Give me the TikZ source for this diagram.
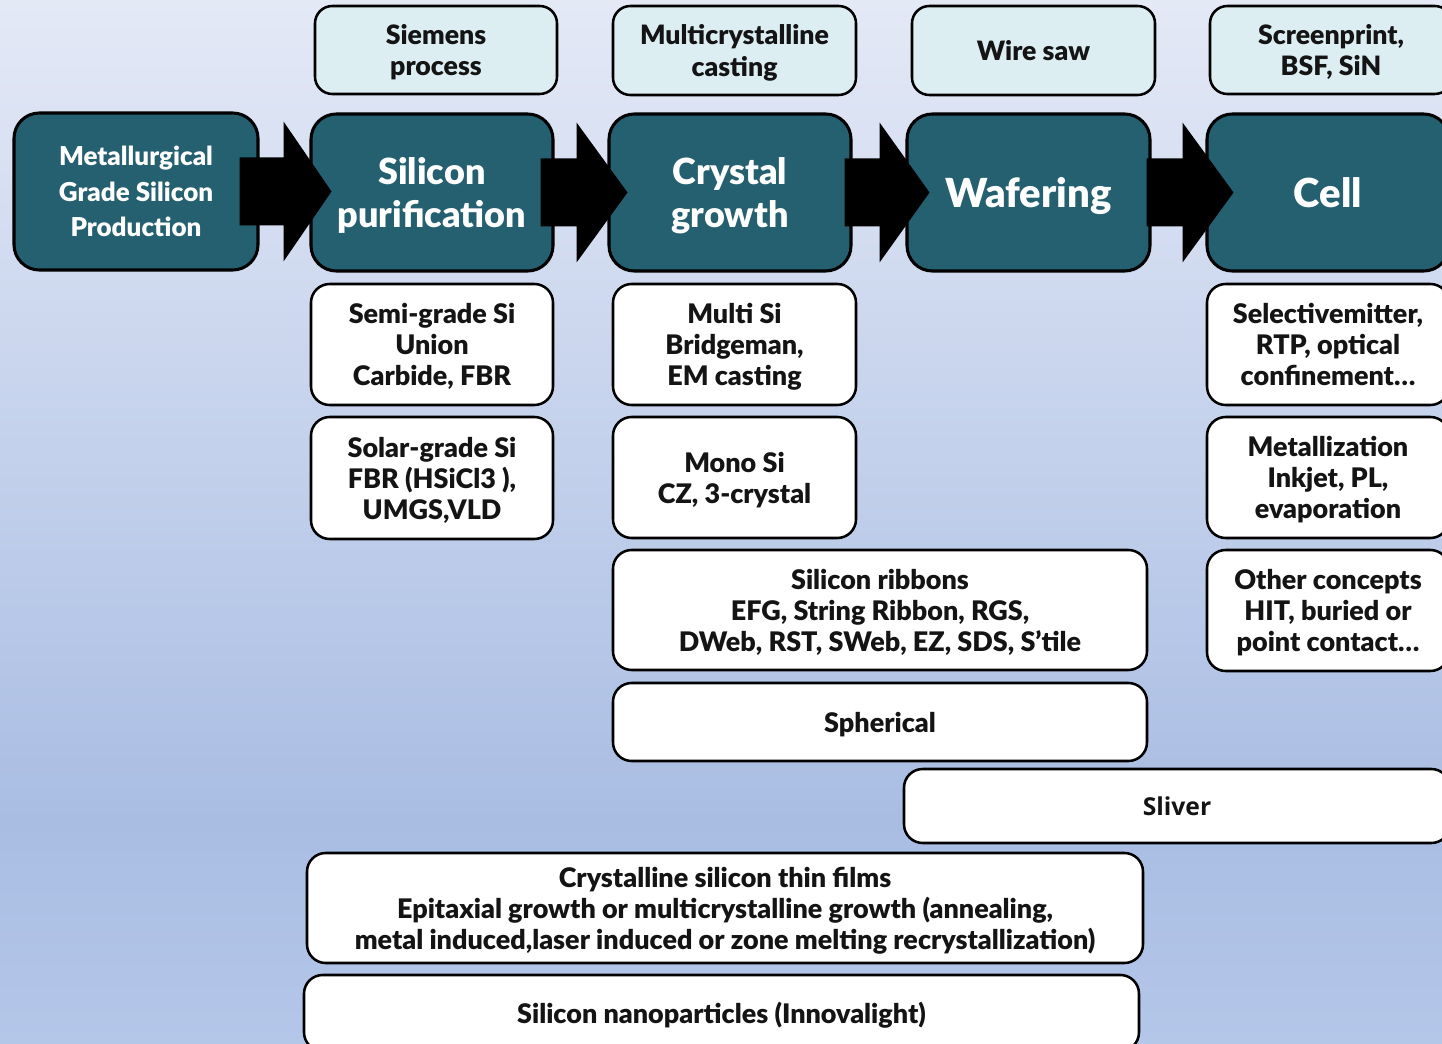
\documentclass[tikz,border=0pt]{standalone}
\usepackage{fontspec}
\setmainfont{Lato}[BoldFont={Lato Black}]
\newfontfamily\segoe{Open Sans}
\definecolor{tealc}{RGB}{37,96,112}
\definecolor{lightc}{RGB}{221,238,243}
\definecolor{bgtop}{RGB}{228,233,246}
\definecolor{bgmid}{RGB}{169,189,227}
\definecolor{bgbot}{RGB}{180,199,233}
\definecolor{txt}{RGB}{20,20,20}
\tikzset{
  sz/.style 2 args={minimum width=#1*0.75pt, minimum height=#2*0.75pt, inner sep=0pt},
  tealbox/.style={draw=black, line width=2.3pt, rounded corners=19pt, fill=tealc, text=white, align=center,
    text depth=0pt, font=\bfseries\fontsize{27}{32}\selectfont},
  lbox/.style={draw=black, line width=1.9pt, rounded corners=13pt, fill=lightc, text=txt, align=center,
    text depth=0pt, font=\bfseries\fontsize{20}{23.3}\selectfont},
  wbox/.style={draw=black, line width=1.9pt, rounded corners=14pt, fill=white, text=txt, align=center,
    text depth=0pt, font=\bfseries\fontsize{20.2}{23.3}\selectfont},
  blockarrow/.style={fill=black}
}
\begin{document}
\begin{tikzpicture}[x=0.75pt,y=-0.75pt]
\useasboundingbox (0,0) rectangle (1442,1044);
\shade[top color=bgtop, bottom color=bgmid] (0,0) rectangle (1442,820);
\shade[top color=bgmid, bottom color=bgbot] (0,820) rectangle (1442,1044);

% top light boxes
\node[lbox, sz={242}{88}] (siem) at (436,50) {Siemens\\process};
\node[lbox, sz={243}{89}] (mcast) at (734.5,50.5) {Multicrystalline\\casting};
\node[lbox, sz={243}{89}] (wire) at (1033.5,50.5) {Wire saw};
\node[lbox, sz={242}{88}] (screen) at (1331,50) {Screenprint,\\BSF, SiN};

% main teal boxes
\node[tealbox, sz={244}{157}, text depth=, font=\bfseries\fontsize{19.5}{26.5}\selectfont] (mgs) at (136,191.5) {Metallurgical\\Grade Silicon\\Production};
\node[tealbox, sz={242}{157}] (pur) at (432,192.5) {Silicon\\purification};
\node[tealbox, sz={242}{157}] (cry) at (730,192.5) {Crystal\\growth};
\node[tealbox, sz={243}{157}, font=\bfseries\fontsize{30}{32}\selectfont] (waf) at (1028.5,192.5) {Wafering};
\node[tealbox, sz={242}{157}, font=\bfseries\fontsize{30}{32}\selectfont] (cell) at (1328,192.5) {Cell};

% block arrows
\fill[blockarrow] (mgs.east) ++(-20,-34) -- ++(44,0) -- ++(0,-36) -- ++(48,70) -- ++(-48,70) -- ++(0,-36) -- ++(-44,0) -- cycle;
\fill[blockarrow] (pur.east) ++(-14,-34) -- ++(36,0) -- ++(0,-36) -- ++(51,70) -- ++(-51,70) -- ++(0,-36) -- ++(-36,0) -- cycle;
\fill[blockarrow] (cry.east) ++(-8,-34) -- ++(35,0) -- ++(0,-36) -- ++(50,70) -- ++(-50,70) -- ++(0,-36) -- ++(-35,0) -- cycle;
\fill[blockarrow] (waf.east) ++(-5,-34) -- ++(36,0) -- ++(0,-36) -- ++(51,70) -- ++(-51,70) -- ++(0,-36) -- ++(-36,0) -- cycle;

% white boxes
\node[wbox, sz={242}{121}] (semi) at (432,344.5) {Semi-grade Si\\Union\\Carbide, FBR};
\node[wbox, sz={242}{122}] (solar) at (432,478) {Solar-grade Si\\FBR (HSiCl3 ),\\UMGS,VLD};
\node[wbox, sz={243}{121}] (multisi) at (734.5,344.5) {Multi Si\\Bridgeman,\\EM casting};
\node[wbox, sz={243}{121}] (mono) at (734.5,477.5) {Mono Si\\CZ, 3-crystal};
\node[wbox, sz={242}{121}] (sel) at (1328,344.5) {Selectivemitter,\\RTP, optical\\confinement\dots};
\node[wbox, sz={242}{121}] (metal) at (1328,477.5) {Metallization\\Inkjet, PL,\\evaporation};
\node[wbox, sz={242}{121}] (other) at (1328,610.5) {Other concepts\\HIT, buried or\\point contact\dots};
\node[wbox, sz={534}{120}] (ribbon) at (880,610) {Silicon ribbons\\EFG, String Ribbon, RGS,\\DWeb, RST, SWeb, EZ, SDS, S’tile};
\node[wbox, sz={534}{78}] (spher) at (880,722) {Spherical};
\node[wbox, sz={546}{74}, font=\segoe\bfseries\fontsize{18.5}{22}\selectfont] (sliver) at (1177,806) {Sliver};
\node[wbox, sz={836}{110}] (thin) at (725,908) {Crystalline silicon thin films\\Epitaxial growth or multicrystalline growth (annealing,\\metal induced,laser induced or zone melting recrystallization)};
\node[wbox, sz={835}{76}] (nano) at (721.5,1013) {Silicon nanoparticles (Innovalight)};
\end{tikzpicture}
\end{document}
